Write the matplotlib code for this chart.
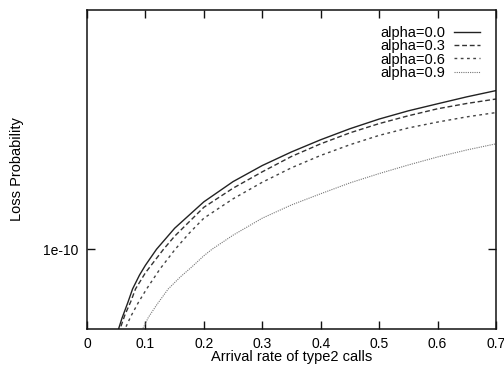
import matplotlib
matplotlib.use("Agg")
import matplotlib.pyplot as plt

plt.rcParams['font.family'] = ['Liberation Sans', 'DejaVu Sans']

# values (loss probability, log scale)
labels = ["alpha=0.0", "alpha=0.3", "alpha=0.6", "alpha=0.9"]

x_a0 = [0.052, 0.054, 0.06, 0.07, 0.078, 0.09, 0.1, 0.119, 0.15, 0.2, 0.25, 0.3, 0.35, 0.4, 0.45, 0.5, 0.55, 0.6, 0.65, 0.7]
y_a0 = [4.7e-11, 5.0e-11, 5.5e-11, 6.3e-11, 7.08e-11, 8.0e-11, 8.7e-11, 1.0e-10, 1.20e-10, 1.51e-10, 1.80e-10, 2.07e-10, 2.33e-10, 2.59e-10, 2.85e-10, 3.10e-10, 3.33e-10, 3.54e-10, 3.76e-10, 3.97e-10]

x_a3 = [0.055, 0.0565, 0.065, 0.075, 0.083, 0.1, 0.115, 0.131, 0.15, 0.2, 0.25, 0.3, 0.35, 0.4, 0.45, 0.5, 0.55, 0.6, 0.65, 0.7]
y_a3 = [4.8e-11, 5.0e-11, 5.66e-11, 6.35e-11, 7.08e-11, 8.15e-11, 9.0e-11, 1.0e-10, 1.12e-10, 1.44e-10, 1.70e-10, 1.96e-10, 2.24e-10, 2.50e-10, 2.75e-10, 2.98e-10, 3.19e-10, 3.39e-10, 3.55e-10, 3.69e-10]

x_a6 = [0.063, 0.065, 0.075, 0.088, 0.102, 0.125, 0.151, 0.175, 0.2, 0.25, 0.3, 0.35, 0.4, 0.45, 0.5, 0.55, 0.6, 0.65, 0.7]
y_a6 = [4.85e-11, 5.0e-11, 5.58e-11, 6.3e-11, 7.08e-11, 8.43e-11, 1.0e-10, 1.15e-10, 1.31e-10, 1.55e-10, 1.79e-10, 2.03e-10, 2.26e-10, 2.48e-10, 2.69e-10, 2.87e-10, 3.02e-10, 3.16e-10, 3.28e-10]

x_a9 = [0.093, 0.0953, 0.105, 0.12, 0.139, 0.16, 0.18, 0.2, 0.214, 0.25, 0.3, 0.35, 0.4, 0.45, 0.5, 0.55, 0.6, 0.65, 0.7]
y_a9 = [4.85e-11, 5.0e-11, 5.53e-11, 6.2e-11, 7.08e-11, 7.87e-11, 8.6e-11, 9.45e-11, 1.0e-10, 1.13e-10, 1.31e-10, 1.47e-10, 1.62e-10, 1.78e-10, 1.93e-10, 2.08e-10, 2.23e-10, 2.37e-10, 2.50e-10]

xticks = [0, 0.1, 0.2, 0.3, 0.4, 0.5, 0.6, 0.7]
xtick_labels = ["0", "0.1", "0.2", "0.3", "0.4", "0.5", "0.6", "0.7"]
yticks = [1e-10]
ytick_labels = ["1e-10"]

fig = plt.figure(figsize=(5.04, 3.67), dpi=100)
ax = fig.add_axes([0.1726, 0.1035, 0.8114, 0.8693])

ax.plot(x_a0, y_a0, color="#222222", lw=1.0, ls="-", label=labels[0])
ax.plot(x_a3, y_a3, color="#333333", lw=1.0, ls=(0, (3.5, 2.0)), label=labels[1])
ax.plot(x_a6, y_a6, color="#444444", lw=1.0, ls=(0, (2.0, 2.5)), label=labels[2])
ax.plot(x_a9, y_a9, color="#777777", lw=0.8, ls=(0, (1.0, 1.0)), label=labels[3])

ax.set_yscale("log")
ax.set_xlim(0, 0.7)
ax.set_ylim(5e-11, 8e-10)
ax.set_xticks(xticks)
ax.set_xticklabels(xtick_labels)
ax.set_yticks(yticks)
ax.set_yticklabels(ytick_labels)
ax.minorticks_off()
ax.tick_params(direction="in", top=True, right=True, length=6, width=1,
               labelsize=10, pad=6, color="#111111")
for s in ax.spines.values():
    s.set_linewidth(1.1)
    s.set_color("#111111")

ax.set_xlabel("Arrival rate of type2 calls", fontsize=10.5, labelpad=-1)
ax.set_ylabel("Loss Probability", fontsize=10.5)
ax.yaxis.set_label_coords(-0.153, 0.5)

leg = ax.legend(loc="upper right", frameon=False, markerfirst=False,
                fontsize=10.5, handlelength=1.8, handletextpad=0.6,
                labelspacing=-0.05, borderaxespad=0.7)

fig.savefig("out.png", dpi=100)
